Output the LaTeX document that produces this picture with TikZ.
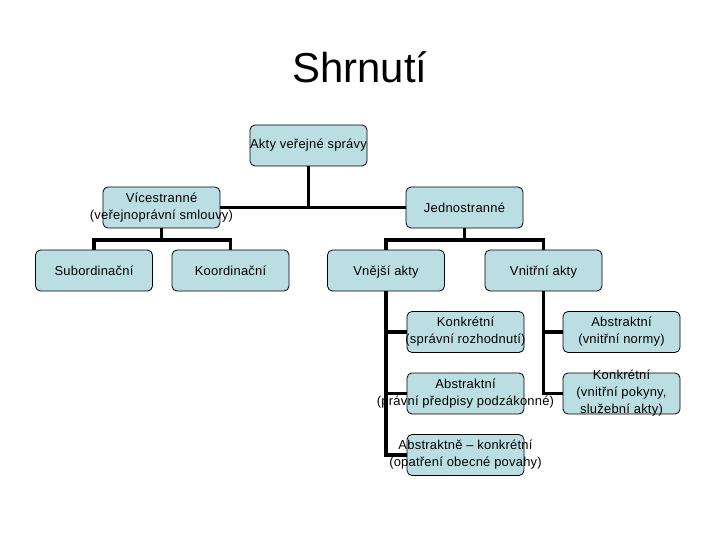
\documentclass[tikz,border=0pt]{standalone}
\usepackage{fontspec}
\setmainfont{Liberation Sans}
\newfontfamily\boxfont{Liberation Sans}[LetterSpace=1.8]
\definecolor{boxfill}{RGB}{186,222,226}
\begin{document}
\begin{tikzpicture}[x=1bp,y=-1bp,
  box/.style={draw=black, line width=0.8bp, fill=boxfill, rounded corners=5bp,
    minimum width=117bp, minimum height=41bp, inner sep=0pt},
  txt/.style={align=center, font=\boxfont\fontsize{13}{17}\selectfont, inner sep=0pt},
  conn/.style={line width=3.8bp}]
\useasboundingbox (0,0) rectangle (720,540);
\node[font=\fontsize{42}{48}\selectfont, anchor=base, inner sep=0pt] (title) at (360,83) {Shrnutí};
% boxes
\node[box] (root)  at (308.5,145.5) {};
\node[box] (vice)  at (161.5,207.5) {};
\node[box] (jedno) at (464.5,207.5) {};
\node[box] (sub)   at (94,270.5) {};
\node[box] (koo)   at (230.5,270.5) {};
\node[box] (vnej)  at (386,270.5) {};
\node[box] (vnit)  at (543.5,270.5) {};
\node[box] (kon1)  at (465.5,332) {};
\node[box] (abs2)  at (621.5,332) {};
\node[box] (abs1)  at (465.5,393.5) {};
\node[box] (kon2)  at (621.5,393.5) {};
\node[box] (ak)    at (465.5,455) {};
% connectors
\path (vice.south) ++(0,12) coordinate (vj);
\path (jedno.south) ++(0,12) coordinate (jj);
\draw[conn] (root.south) -- (root.south |- vice.east);
\draw[conn] (vice.east) -- (jedno.west);
\draw[conn] (vice.south) -- (vj);
\draw[conn] (sub.north) |- (vj) -| (koo.north);
\draw[conn] (jedno.south) -- (jj);
\draw[conn] (vnej.north) |- (jj) -| (vnit.north);
\draw[conn] (vnej.south) |- (ak.west);
\draw[conn] (vnej.south |- kon1.west) -- (kon1.west);
\draw[conn] (vnej.south |- abs1.west) -- (abs1.west);
\draw[conn] (vnit.south) |- (kon2.west);
\draw[conn] (vnit.south |- abs2.west) -- (abs2.west);
% texts
\node[txt] (rootT)  at (root)  {Akty veřejné správy};
\node[txt] (viceT)  at (vice)  {Vícestranné\\(veřejnoprávní smlouvy)};
\node[txt] (jednoT) at (jedno) {Jednostranné};
\node[txt] (subT)   at (sub)   {Subordinační};
\node[txt] (kooT)   at (koo)   {Koordinační};
\node[txt] (vnejT)  at ([yshift=-1.5bp]vnej.center)  {Vnější akty};
\node[txt] (vnitT)  at ([yshift=-1.5bp]vnit.center)  {Vnitřní akty};
\node[txt] (kon1T)  at (kon1)  {Konkrétní\\(správní rozhodnutí)};
\node[txt] (abs2T)  at (abs2)  {Abstraktní\\(vnitřní normy)};
\node[txt] (abs1T)  at (abs1)  {Abstraktní\\(právní předpisy podzákonné)};
\node[txt] (kon2T)  at (kon2)  {Konkrétní\\(vnitřní pokyny,\\služební akty)};
\node[txt] (akT)    at (ak)    {Abstraktně – konkrétní\\(opatření obecné povahy)};
\end{tikzpicture}
\end{document}
